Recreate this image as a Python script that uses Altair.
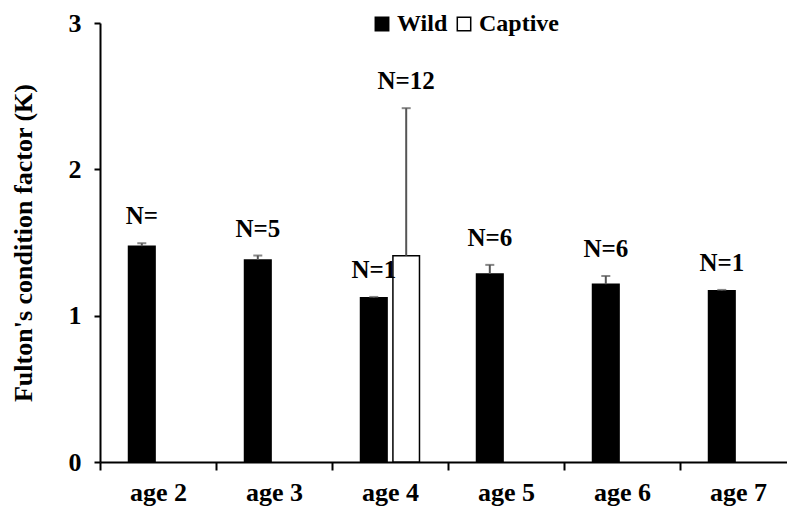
import altair as alt
import pandas as pd

# ---- data ----
ages = ["age 2", "age 3", "age 4", "age 5", "age 6", "age 7"]
groups = ["Wild", "Captive"]

wild_mean = [1.475, 1.381, 1.123, 1.285, 1.215, 1.171]
wild_err = [0.020, 0.030, 0.005, 0.062, 0.056, 0.005]
wild_n = ["N=", "N=5", "N=1", "N=6", "N=6", "N=1"]

captive_age = ["age 4"]
captive_mean = [1.41]
captive_err = [1.008]
captive_n = ["N=12"]

rows = []
for a, m, e, n in zip(ages, wild_mean, wild_err, wild_n):
    rows.append({"age": a, "group": "Wild", "mean": m, "top": m + e, "n": n})
for a, m, e, n in zip(captive_age, captive_mean, captive_err, captive_n):
    rows.append({"age": a, "group": "Captive", "mean": m, "top": m + e, "n": n})
df = pd.DataFrame(rows)

FONT = "Liberation Serif"

x_enc = alt.X(
    "age:N",
    sort=ages,
    scale=alt.Scale(domain=ages, range=[0, 696], paddingInner=0, paddingOuter=0),
    axis=alt.Axis(
        title=None,
        labelAngle=0,
        labelFont=FONT,
        labelFontSize=26,
        labelFontWeight="bold",
        labelColor="black",
        labelPadding=9,
        domainColor="black",
        domainWidth=2,
        tickColor="black",
        tickWidth=2,
        tickSize=8,
        tickBand="extent",
    ),
)
xoff_enc = alt.XOffset(
    "group:N",
    scale=alt.Scale(domain=groups, paddingInner=0.18, paddingOuter=0.88),
)
y_scale = alt.Scale(domain=[0, 3], nice=False, zero=True)

base = alt.Chart(df)

bars = base.mark_bar(stroke="black", strokeWidth=1.5).encode(
    x=x_enc,
    xOffset=xoff_enc,
    y=alt.Y(
        "mean:Q",
        scale=y_scale,
        axis=alt.Axis(
            values=[0, 1, 2, 3],
            format="d",
            grid=False,
            title="Fulton's condition factor (K)",
            titleFont=FONT,
            titleFontSize=26,
            titleFontWeight="bold",
            titleColor="black",
            titlePadding=32,
            labelFont=FONT,
            labelFontSize=26,
            labelFontWeight="bold",
            labelColor="black",
            labelPadding=13,
            domainColor="black",
            domainWidth=2,
            tickColor="black",
            tickWidth=2,
            tickSize=6,
        ),
    ),
    color=alt.Color(
        "group:N",
        scale=alt.Scale(domain=groups, range=["black", "white"]),
        legend=alt.Legend(
            title=None,
            orient="none",
            direction="horizontal",
            legendX=270,
            legendY=-11,
            symbolType="square",
            symbolSize=180,
            symbolStrokeColor="black",
            symbolStrokeWidth=1.5,
            symbolOpacity=1,
            labelFont=FONT,
            labelFontSize=24,
            labelFontWeight="bold",
            labelColor="black",
            labelOffset=3,
            columnPadding=4,
            padding=0,
        ),
    ),
)

rules = base.mark_rule(color="#555555", strokeWidth=2).encode(
    x=alt.X("age:N", sort=ages),
    xOffset=alt.XOffset("group:N"),
    y=alt.Y("mean:Q"),
    y2="top:Q",
)

caps = base.mark_tick(color="#555555", thickness=2, size=9).encode(
    x=alt.X("age:N", sort=ages),
    xOffset=alt.XOffset("group:N"),
    y=alt.Y("top:Q"),
)

labels = base.mark_text(
    font=FONT, fontSize=25, fontWeight="bold", color="black",
    baseline="alphabetic", dy=-19,
).encode(
    x=alt.X("age:N", sort=ages),
    xOffset=alt.XOffset("group:N"),
    y=alt.Y("top:Q"),
    text="n:N",
)

chart = (
    alt.layer(bars, rules, caps, labels)
    .properties(
        width=687,
        height=439,
        autosize=alt.AutoSizeParams(type="none"),
        padding={"left": 100, "top": 23, "right": 0, "bottom": 45},
        background="white",
    )
    .configure_view(stroke=None)
)

chart.save("out.html", embed_options={"renderer": "svg", "actions": False})
